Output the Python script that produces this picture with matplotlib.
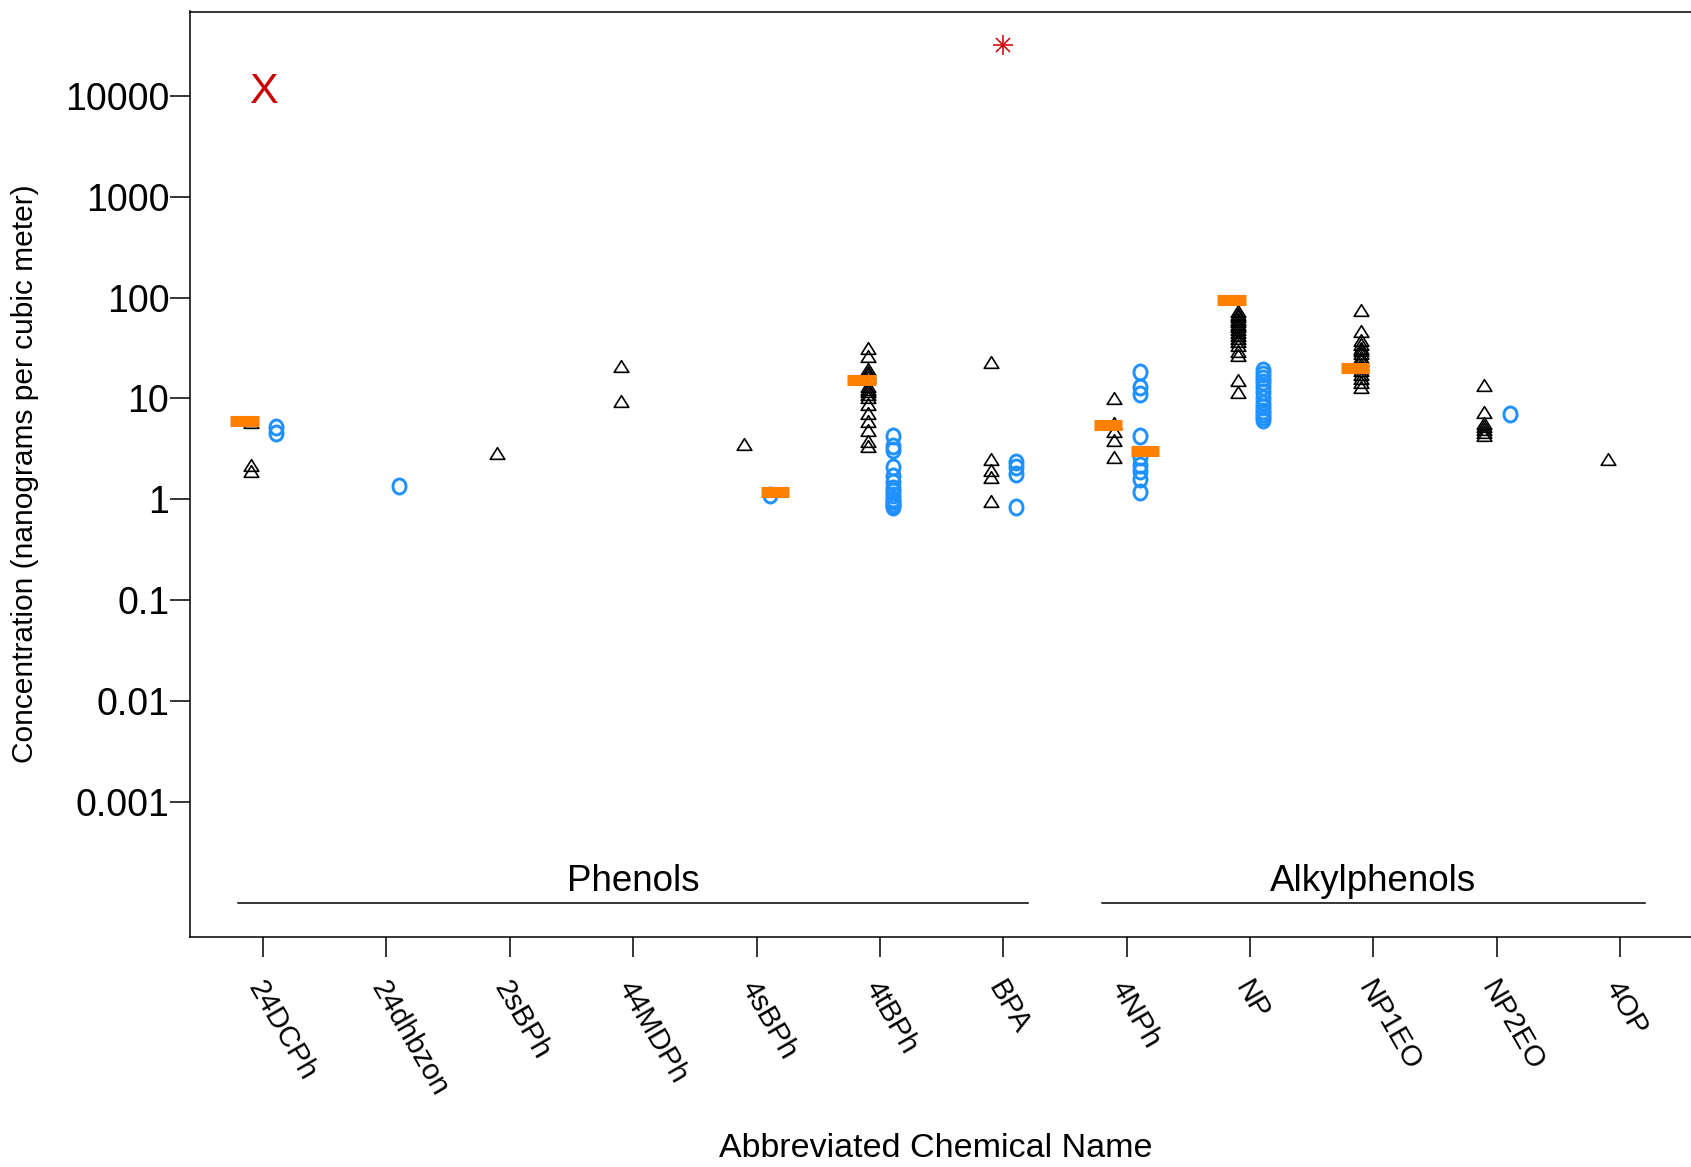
import numpy as np
import matplotlib.pyplot as plt
import matplotlib.transforms as mtransforms
from matplotlib.path import Path

plt.rcParams['font.family'] = ['Liberation Sans', 'DejaVu Sans']

chem_names = ['24DCPh', '24dhbzon', '2sBPh', '44MDPh', '4sBPh', '4tBPh',
              'BPA', '4NPh', 'NP', 'NP1EO', 'NP2EO', '4OP']

# black triangles, left of each tick
tri_vals = [
    [5.8, 2.2, 1.9],
    [],
    [2.9],
    [21, 9.4],
    [3.5],
    [32, 26.5, 19.5, 18.5, 17.5, 16.5, 13.3, 12.5, 11.8, 11, 10.3, 8.8,
     7.2, 6.0, 4.9, 3.8, 3.4],
    [22.9, 2.5, 1.95, 1.65, 0.97],
    [10.1, 5.7, 4.7, 3.9, 2.6],
    [73, 69, 65, 61, 58, 55, 52, 49, 46, 43, 40, 37, 34, 29.5, 27, 15.4, 11.7],
    [75, 47, 38, 35, 32, 30, 28, 26, 24, 22, 20.5, 19, 17.5, 16, 14.5, 13],
    [13.6, 7.3, 5.7, 5.3, 5.0, 4.6, 4.3],
    [2.5],
]

# blue circles, right of each tick
circ_vals = [
    [5.2, 4.5],
    [1.35],
    [],
    [],
    [1.1],
    [4.2, 3.4, 3.1, 2.1, 1.7, 1.5, 1.3, 1.2, 1.1, 1.0, 0.95, 0.9, 0.87, 0.84],
    [2.35, 2.1, 1.78, 0.83],
    [18.3, 12.9, 11.1, 4.2, 2.6, 2.2, 1.9, 1.6, 1.18],
    [19.2, 17.5, 16, 14.5, 13, 11.5, 10, 9, 8.3, 7.5, 7, 6.5, 6.1],
    [],
    [7.0],
    [],
]

# orange summary bars (triangle side / circle side)
bar_tri = [6.0, None, None, None, None, 15.1, None, 5.4, 94, 20, None, None]
bar_circ = [None, None, None, None, 1.17, None, None, 3.0, None, None, None, None]

# single high values
x_mark_val = 12100   # 24DCPh
star_val = 32000     # BPA

group_names = ['Phenols', 'Alkylphenols']
group_spans = [(0.8, 7.2), (7.8, 12.2)]

ytick_vals = [0.001, 0.01, 0.1, 1, 10, 100, 1000, 10000]
ytick_labels = ['0.001', '0.01', '0.1', '1', '10', '100', '1000', '10000']

fig = plt.figure(figsize=(16.91, 11.67), dpi=100)
ax = fig.add_axes([190 / 1691, 1 - 936.7 / 1167, 1503 / 1691, 925.2 / 1167])
ax.set_yscale('log')
ax.set_xlim(0.408, 12.59)
ax.set_ylim(10 ** -4.339, 10 ** 4.838)

xs = np.arange(1, len(chem_names) + 1)

tri_marker = Path([(-1, -0.8), (1, -0.8), (0, 0.8), (-1, -0.8)],
                  [Path.MOVETO, Path.LINETO, Path.LINETO, Path.CLOSEPOLY])
circ = Path.unit_circle()
oval_marker = Path(circ.vertices * [0.87, 1.0], circ.codes)

for i, x in enumerate(xs):
    if tri_vals[i]:
        ax.plot([x - 0.1] * len(tri_vals[i]), tri_vals[i], linestyle='none',
                marker=tri_marker, ms=10.5, mfc='none', mec='black', mew=1.2,
                zorder=3)
    if circ_vals[i]:
        ax.plot([x + 0.105] * len(circ_vals[i]), circ_vals[i], linestyle='none',
                marker=oval_marker, ms=10.8, mfc='none', mec='#1E90FF', mew=2.1,
                zorder=3)
    if bar_tri[i] is not None:
        ax.hlines(bar_tri[i], x - 0.265, x - 0.035, colors='#FF7F00', lw=8,
                  capstyle='butt', zorder=4)
    if bar_circ[i] is not None:
        ax.hlines(bar_circ[i], x + 0.035, x + 0.265, colors='#FF7F00', lw=8,
                  capstyle='butt', zorder=4)

ax.text(xs[0], x_mark_val, 'X', color='#CC0000', fontsize=31,
        ha='center', va='center_baseline', zorder=5)
ax.plot([xs[6]], [star_val], linestyle='none', marker='+', ms=14.5,
        mew=1.1, color='#CC0000', zorder=5)
ax.plot([xs[6]], [star_val], linestyle='none', marker='x', ms=10,
        mew=1.1, color='#CC0000', zorder=5)

# group brackets under the points
for name, (x0, x1) in zip(group_names, group_spans):
    ax.plot([x0, x1], [1e-4, 1e-4], color='black', lw=1.1)
    ax.text((x0 + x1) / 2, 10 ** -3.79, name, fontsize=26.5,
            ha='center', va='center')

ax.set_yticks(ytick_vals)
ax.set_yticklabels(ytick_labels, fontsize=27)
ax.yaxis.set_minor_locator(plt.NullLocator())

# slanted chemical names below the x ticks
ax.set_xticks(xs)
ax.set_xticklabels([])
shift = mtransforms.ScaledTranslation(-9 / 100, 0, fig.dpi_scale_trans)
lbl_trans = ax.get_xaxis_transform() + shift
for x, name in zip(xs, chem_names):
    ax.text(x, -0.05, name, transform=lbl_trans, fontsize=21, rotation=-60,
            ha='left', va='center', rotation_mode='anchor', clip_on=False)

ax.tick_params(axis='both', length=14.4, width=1.1, direction='out')
ax.tick_params(axis='y', pad=0.5)

for sp in ax.spines.values():
    sp.set_linewidth(1.1)

ax.set_xlabel('Abbreviated Chemical Name', fontsize=24.5)
ax.xaxis.set_label_coords(0.4965, -0.229)
ax.xaxis.label.set_va('center')
ax.set_ylabel('Concentration (nanograms per cubic meter)', fontsize=21.5)
ax.yaxis.set_label_coords(-0.1095, 0.5)
ax.yaxis.label.set_va('center')

fig.savefig('out.png', dpi=100)
